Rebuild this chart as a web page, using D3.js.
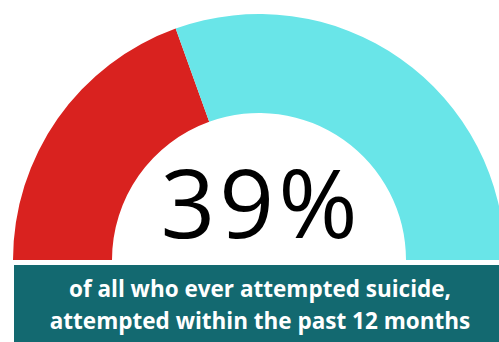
<!DOCTYPE html>
<html>
<head>
<meta charset="utf-8">
<script src="https://cdn.jsdelivr.net/npm/d3@7"></script>
<style>
    html, body { margin: 0; padding: 0; background: #fff; }
    svg { display: block; }
</style>
</head>
<body>
<div id="chart_parent"></div>
<script>
const categories = ['attempted within the past 12 months', 'other'];
const values = [39, 61];
const colours = ['#d9221f', '#69e5e8'];
const bigLabel = '39%';
const captionLines = ['of all who ever attempted suicide,', 'attempted within the past 12 months'];

const chartConfig = {
    outerWidth: 499,
    outerHeight: 342,
    cx: 259,
    cy: 260,
    outerRadius: 246,
    innerRadius: 147,
};

const svg = d3.select('#chart_parent').append('svg')
    .attr('width', chartConfig.outerWidth)
    .attr('height', chartConfig.outerHeight);

const gauge = svg.append('g')
    .attr('transform', `translate(${chartConfig.cx},${chartConfig.cy})`);

// half donut, left to right
const pie = d3.pie()
    .sort(null)
    .startAngle(-Math.PI / 2)
    .endAngle(Math.PI / 2);

const arc = d3.arc()
    .innerRadius(chartConfig.innerRadius)
    .outerRadius(chartConfig.outerRadius);

gauge.selectAll('path')
    .data(pie(values))
    .enter()
    .append('path')
    .attr('d', arc)
    .attr('fill', (d, i) => colours[i]);

// trailing letter-spacing pushes the centred text left, hence the small x nudge
gauge.append('text')
    .attr('x', 2)
    .attr('y', -22)
    .attr('text-anchor', 'middle')
    .style('font-family', '"Open Sans", sans-serif')
    .style('font-size', '96px')
    .style('font-weight', 400)
    .style('letter-spacing', '4px')
    .attr('fill', '#000')
    .text(bigLabel);

// caption box
svg.append('rect')
    .attr('x', 14)
    .attr('y', 265)
    .attr('width', chartConfig.outerWidth - 14)
    .attr('height', chartConfig.outerHeight - 265)
    .attr('fill', '#136970');

svg.selectAll('.caption')
    .data(captionLines)
    .enter()
    .append('text')
    .attr('class', 'caption')
    .attr('x', 260)
    .attr('y', (d, i) => 297 + i * 32)
    .attr('text-anchor', 'middle')
    .style('font-family', '"Open Sans", sans-serif')
    .style('font-size', '22.5px')
    .style('font-weight', 700)
    .attr('fill', '#fff')
    .text(d => d);
</script>
</body>
</html>
